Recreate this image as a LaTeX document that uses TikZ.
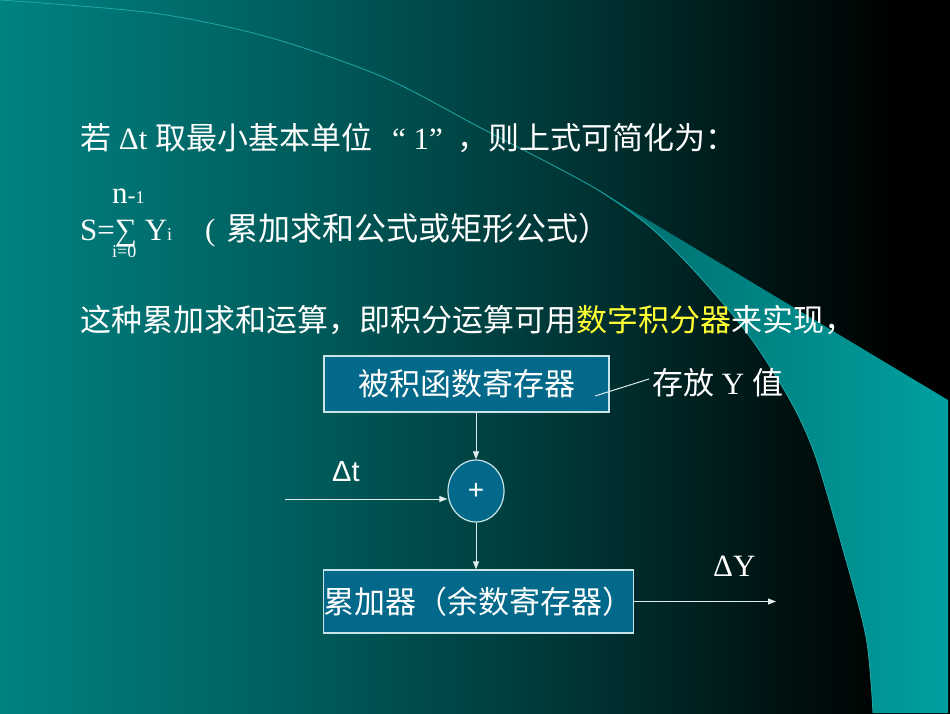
\documentclass[tikz,border=0pt]{standalone}
\usepackage{fontspec}
\setmainfont{Liberation Serif}
\newfontfamily\cjk{Noto Sans CJK SC}
\newfontfamily\sansf{Liberation Sans}
\usetikzlibrary{arrows.meta,shapes.geometric}
\definecolor{bgA}{HTML}{008282}
\definecolor{bgB}{HTML}{005C5C}
\definecolor{bgC}{HTML}{003535}
\definecolor{bgD}{HTML}{000F0F}
\definecolor{swA}{HTML}{006A6A}
\definecolor{swB}{HTML}{00A0A0}
\definecolor{swL}{HTML}{20A8A8}
\definecolor{boxF}{HTML}{03698A}
\definecolor{boxD}{HTML}{C8E4E8}
\definecolor{lineC}{HTML}{E0ECEC}
\definecolor{hl}{HTML}{FFFF33}
\pgfdeclarehorizontalshading{bgshade}{100bp}{color(0bp)=(bgA); color(25bp)=(bgA); color(40.8bp)=(bgB); color(55bp)=(bgC); color(67.1bp)=(bgD); color(72.4bp)=(black); color(100bp)=(black)}
\begin{document}
\begin{tikzpicture}[x=1pt,y=-1pt,
  txt/.style={anchor=base west, inner sep=0pt, text=white, font=\fontsize{31}{36}\selectfont},
  box/.style={draw=boxD, line width=1.2pt, fill=boxF, text=white, inner sep=0pt, font=\cjk\fontsize{31}{36}\selectfont},
  sumnode/.style={ellipse, draw=boxD, line width=1.2pt, fill=boxF, text=white, inner sep=0pt, minimum width=56pt, minimum height=62pt},
  conn/.style={draw=lineC, line width=1pt},
  arr/.style={conn, -{Triangle[length=8pt,width=6pt]}}
]
\useasboundingbox (0,0) rectangle (950,713);
\shade[shading=bgshade] (0,0) rectangle (950,713);
% swoosh
\shade[left color=swA, right color=swB] (593,187) -- (948,400) -- (948,713) -- plot[smooth] coordinates {(873,713) (866,637) (842,546) (815,455) (790,400) (750,337) (700,277) (650,227) (593,187)} -- cycle;
\draw[swL, line width=0.8pt] plot[smooth] coordinates {(0,0) (153,13) (268,37) (383,77) (479,127) (593,187) (650,227) (700,277) (750,337) (790,400) (815,455) (842,546) (866,637) (873,713)};

% text lines
\node[txt] (l1a) at (80,149) {{\cjk 若} Δt {\cjk 取最小基本单位}};
\node[txt] (l1b) at (392,149) {“ 1”};
\node[txt, font=\cjk\fontsize{31}{36}\selectfont] (l1c) at (457,149) {，则上式可简化为：};

\node[txt, font=\fontsize{31}{36}\selectfont] (nn) at (112,203) {n{\fontsize{24}{26}\selectfont -}{\fontsize{18}{20}\selectfont 1}};
\node[txt] (sum1) at (80,240) {S=∑ Y{\fontsize{18}{20}\selectfont i}};
\node[txt, font=\fontsize{18}{20}\selectfont] (i0) at (112,257) {i=0};
\node[txt] (p) at (205,240) {(};
\node[txt, font=\cjk\fontsize{32}{36}\selectfont] (l2c) at (226,240) {累加求和公式或矩形公式）};

\node[txt, font=\cjk\fontsize{31}{36}\selectfont] (l3) at (80,331.5) {这种累加求和运算，即积分运算可用\textcolor{hl}{数字积分器}来实现，};

% diagram
\node[box, minimum width=285pt, minimum height=56pt] (box1) at (466.5,384) {被积函数寄存器};
\node[box, minimum width=309pt, minimum height=63pt] (box2) at (478.5,601.5) {累加器（余数寄存器）};
\node[sumnode] (sum) at (476,491) {};
\node[text=white, font=\sansf\fontsize{28}{30}\selectfont, inner sep=0pt] (plus) at (sum.center) {+};

\draw[arr] (box1.south -| sum) -- (sum.north);
\draw[arr] (sum.south) -- (box2.north -| sum);

\coordinate (tin) at (285,499);
\draw[arr] (tin) -- (tin -| sum.west);
\node[anchor=base west, inner sep=0pt, text=white, font=\sansf\fontsize{29}{32}\selectfont] (dt) at (332,481) {Δt};

\coordinate (out) at (776,601.5);
\draw[arr] (box2.east) -- (out);
\node[txt] (dy) at (713,576) {ΔY};

\node[txt] (lbl) at (652,394.5) {{\cjk 存放} Y {\cjk 值}};
\coordinate (cl) at (595,396);
\coordinate (cr) at (649,379);
\draw[conn] (cl) -- (cr);
\end{tikzpicture}
\end{document}
